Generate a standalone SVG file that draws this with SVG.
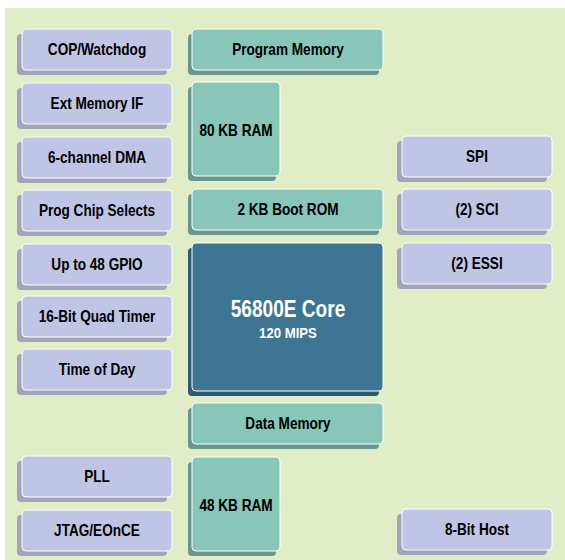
<svg xmlns="http://www.w3.org/2000/svg" width="565" height="560" viewBox="0 0 565 560">
<style>
  .t { font-family: "Liberation Sans Narrow", "Liberation Sans", Arial, sans-serif; font-weight: bold; font-size: 16px; text-anchor: middle; fill: #000; }
  .w { fill: #ffffff; }
  .lv { fill: #c0c5e5; stroke: #ffffff; stroke-width: 1; }
  .lvs { fill: #a3a4b9; }
  .tl { fill: #87c6b8; stroke: #ffffff; stroke-width: 1; }
  .tls { fill: #6a968d; }
  .cr { fill: #3e7593; stroke: #ffffff; stroke-width: 1; }
  .crs { fill: #2c5b73; }
</style>
<defs>
  <rect id="lbox" width="150" height="41" rx="4"/>
  <rect id="wbox" width="191" height="41" rx="4"/>
  <rect id="ram" width="88" height="94" rx="4"/>
</defs>
<rect x="5" y="8" width="560" height="552" fill="#e1edc6"/>

<g id="cop"><use href="#lbox" class="lvs" x="17" y="34"/><use href="#lbox" class="lv" x="22" y="29"/><text class="t" transform="translate(97 55) scale(0.85 1)">COP/Watchdog</text></g>
<g id="extmem"><use href="#lbox" class="lvs" x="17" y="88"/><use href="#lbox" class="lv" x="22" y="83"/><text class="t" transform="translate(97 109) scale(0.85 1)">Ext Memory IF</text></g>
<g id="dma"><use href="#lbox" class="lvs" x="17" y="142"/><use href="#lbox" class="lv" x="22" y="137"/><text class="t" transform="translate(97 163) scale(0.85 1)">6-channel DMA</text></g>
<g id="chipsel"><use href="#lbox" class="lvs" x="17" y="195"/><use href="#lbox" class="lv" x="22" y="190"/><text class="t" transform="translate(97 216) scale(0.85 1)">Prog Chip Selects</text></g>
<g id="gpio"><use href="#lbox" class="lvs" x="17" y="249"/><use href="#lbox" class="lv" x="22" y="244"/><text class="t" transform="translate(97 270) scale(0.85 1)">Up to 48 GPIO</text></g>
<g id="timer"><use href="#lbox" class="lvs" x="17" y="301"/><use href="#lbox" class="lv" x="22" y="296"/><text class="t" transform="translate(97 322) scale(0.85 1)">16-Bit Quad Timer</text></g>
<g id="tod"><use href="#lbox" class="lvs" x="17" y="354"/><use href="#lbox" class="lv" x="22" y="349"/><text class="t" transform="translate(97 375) scale(0.85 1)">Time of Day</text></g>
<g id="pll"><use href="#lbox" class="lvs" x="17" y="461"/><use href="#lbox" class="lv" x="22" y="456"/><text class="t" transform="translate(97 482) scale(0.85 1)">PLL</text></g>
<g id="jtag"><use href="#lbox" class="lvs" x="17" y="515"/><use href="#lbox" class="lv" x="22" y="510"/><text class="t" transform="translate(97 536) scale(0.85 1)">JTAG/EOnCE</text></g>

<g id="progmem"><use href="#wbox" class="tls" x="188" y="34"/><use href="#wbox" class="tl" x="192" y="29"/><text class="t" transform="translate(288 55) scale(0.85 1)">Program Memory</text></g>
<g id="ram80"><use href="#ram" class="tls" x="188" y="87"/><use href="#ram" class="tl" x="192" y="82"/><text class="t" transform="translate(236 136) scale(0.85 1)">80 KB RAM</text></g>
<g id="bootrom"><use href="#wbox" class="tls" x="188" y="194"/><use href="#wbox" class="tl" x="192" y="189"/><text class="t" transform="translate(288 215) scale(0.85 1)">2 KB Boot ROM</text></g>
<g id="core"><rect class="crs" x="188" y="248" width="191" height="148" rx="4"/><rect class="cr" x="192" y="243" width="191" height="148" rx="4"/><text class="t w" transform="translate(288 317) scale(0.83 1)" style="font-size:23px">56800E Core</text><text class="t w" transform="translate(288 338) scale(0.85 1)" style="font-size:15.5px">120 MIPS</text></g>
<g id="datamem"><use href="#wbox" class="tls" x="188" y="408"/><use href="#wbox" class="tl" x="192" y="403"/><text class="t" transform="translate(288 429) scale(0.85 1)">Data Memory</text></g>
<g id="ram48"><use href="#ram" class="tls" x="188" y="462"/><use href="#ram" class="tl" x="192" y="457"/><text class="t" transform="translate(236 511) scale(0.85 1)">48 KB RAM</text></g>

<g id="spi"><use href="#lbox" class="lvs" x="397" y="141"/><use href="#lbox" class="lv" x="402" y="136"/><text class="t" transform="translate(477 162) scale(0.85 1)">SPI</text></g>
<g id="sci"><use href="#lbox" class="lvs" x="397" y="194"/><use href="#lbox" class="lv" x="402" y="189"/><text class="t" transform="translate(477 215) scale(0.85 1)">(2) SCI</text></g>
<g id="essi"><use href="#lbox" class="lvs" x="397" y="248"/><use href="#lbox" class="lv" x="402" y="243"/><text class="t" transform="translate(477 269) scale(0.85 1)">(2) ESSI</text></g>
<g id="host"><use href="#lbox" class="lvs" x="397" y="514"/><use href="#lbox" class="lv" x="402" y="509"/><text class="t" transform="translate(477 535) scale(0.85 1)">8-Bit Host</text></g>

<g id="connectors"></g>
</svg>
